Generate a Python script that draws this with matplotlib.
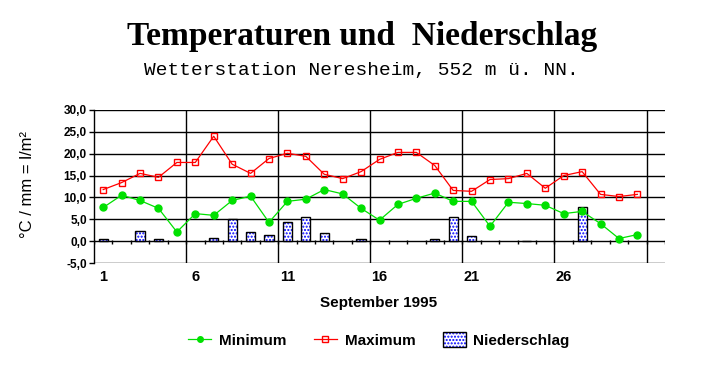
import matplotlib
matplotlib.use("Agg")
import matplotlib.pyplot as plt
from matplotlib.lines import Line2D
from matplotlib.patches import Rectangle
from matplotlib.legend_handler import HandlerTuple
import numpy as np

# Tageswerte September 1995
tage = list(range(1, 31))
t_min = [7.7, 10.5, 9.3, 7.5, 2.1, 6.3, 5.9, 9.3, 10.3, 4.3,
         9.1, 9.6, 11.8, 10.8, 7.5, 4.8, 8.4, 9.8, 11.0, 9.1,
         9.1, 3.4, 8.9, 8.6, 8.2, 6.3, 6.8, 4.0, 0.6, 1.5]
t_max = [11.8, 13.4, 15.5, 14.6, 18.0, 18.0, 24.0, 17.6, 15.5, 18.9,
         20.1, 19.4, 15.3, 14.3, 15.9, 18.7, 20.3, 20.3, 17.3, 11.6,
         11.4, 14.1, 14.3, 15.5, 12.1, 15.0, 15.9, 10.7, 10.2, 10.7]
niederschlag = [0.4, 0.0, 2.4, 0.6, 0.0, 0.0, 0.8, 5.0, 2.2, 1.3,
                4.3, 5.6, 1.8, 0.0, 0.6, 0.0, 0.0, 0.0, 0.4, 5.6,
                1.1, 0.0, 0.0, 0.1, 0.0, 0.0, 7.9, 0.0, 0.0, 0.0]
y_ticks = [-5, 0, 5, 10, 15, 20, 25, 30]
x_labels = [1, 6, 11, 16, 21, 26]

fig = plt.figure(figsize=(7.23, 3.68), dpi=100)
ax = fig.add_axes([94 / 723, 1 - 263 / 368, (665 - 94) / 723, (263 - 110) / 368])

ax.set_xlim(0.5, 31.5)
ax.set_ylim(-5, 30)

# Gitter
for y in y_ticks:
    ax.axhline(y, color="black", lw=1.0, zorder=1)
for x in np.arange(5.5, 31, 5):
    ax.axvline(x, color="black", lw=1.0, zorder=1)
ax.vlines(np.arange(0.5, 32, 1), -0.6, 0.3, color="black", lw=1.0, zorder=1)

# Niederschlag (Balken)
ns_tage = [t for t, v in zip(tage, niederschlag) if v > 0]
ns_werte = [v for v in niederschlag if v > 0]
ax.bar(ns_tage, ns_werte, width=0.5, color="white", edgecolor="#0000ff",
       hatch=".....", lw=0, zorder=2)
ax.bar(ns_tage, ns_werte, width=0.5, fill=False, edgecolor="black",
       lw=1.0, zorder=3)

# Temperaturen
ax.plot(tage, t_min, color="#00e000", lw=0.9, marker="o", ms=5,
        mec="#00e000", mfc="#00e000", zorder=4)
ax.plot(tage, t_max, color="#ff0000", lw=0.9, marker="s", ms=4.5,
        mec="#ff0000", mfc="none", mew=1.0, zorder=4)

for s in ["top", "right", "bottom"]:
    ax.spines[s].set_visible(False)
ax.spines["left"].set_linewidth(1.0)

ax.set_yticks(y_ticks)
ax.set_yticklabels([("%.1f" % v).replace(".", ",") for v in y_ticks],
                   fontsize=8.5, fontweight="bold", family="Liberation Sans")
ax.tick_params(axis="y", direction="out", length=3.6, width=1.0, pad=1.5)
ax.set_xticks(x_labels)
ax.set_xticklabels([str(v) for v in x_labels], fontsize=10.5,
                   fontweight="bold", family="Liberation Sans")
ax.tick_params(axis="x", length=0, pad=5)

fig.text(379 / 723, 1 - 303 / 368, "September 1995", ha="center", va="center",
         fontsize=11, fontweight="bold", family="Liberation Sans")
fig.text(28 / 723, 1 - 185 / 368, "°C / mm = l/m²", ha="center", va="center",
         rotation=90, fontsize=12, family="Liberation Sans")

fig.text(362 / 723, 1 - 37 / 368, "Temperaturen und  Niederschlag", ha="center",
         va="center", fontsize=24, fontweight="bold", family="Liberation Serif")
fig.text(361 / 723, 1 - 71 / 368, "Wetterstation Neresheim, 552 m ü. NN.",
         ha="center", va="center", fontsize=14, family="Liberation Mono")

# Legende
h_min = Line2D([], [], color="#00e000", lw=0.9, marker="o", ms=4,
               mfc="#00e000", mec="#00e000")
h_max = Line2D([], [], color="#ff0000", lw=0.9, marker="s", ms=4,
               mfc="none", mec="#ff0000")
h_ns1 = Rectangle((0, 0), 1, 1, facecolor="white", edgecolor="#0000ff",
                  hatch=".....", lw=0)
h_ns2 = Rectangle((0, 0), 1, 1, fill=False, edgecolor="black", lw=1.0)
leg = fig.legend([h_min, h_max, (h_ns1, h_ns2)],
                 ["Minimum", "Maximum", "Niederschlag"],
                 handler_map={tuple: HandlerTuple(ndivide=1, pad=0)},
                 loc="center", bbox_to_anchor=(379 / 723, 1 - 340 / 368),
                 ncol=3, frameon=False, handlelength=1.5, handleheight=1.1,
                 handletextpad=0.5, columnspacing=1.8,
                 prop={"family": "Liberation Sans", "weight": "bold",
                       "size": 11})

fig.savefig("out.png", dpi=100)
